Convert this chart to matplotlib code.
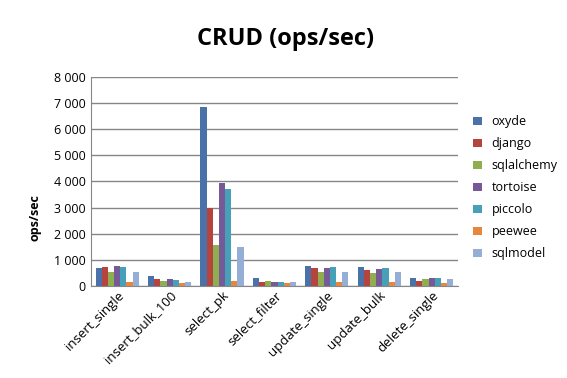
import matplotlib.pyplot as plt
import numpy as np
from matplotlib.ticker import FuncFormatter

plt.rcParams['font.family'] = ['Open Sans', 'DejaVu Sans']

categories = ['insert_single', 'insert_bulk_100', 'select_pk', 'select_filter',
              'update_single', 'update_bulk', 'delete_single']
libs = ['oxyde', 'django', 'sqlalchemy', 'tortoise', 'piccolo', 'peewee', 'sqlmodel']

oxyde = [680, 370, 6845, 320, 765, 730, 305]
django = [730, 270, 2990, 165, 680, 600, 190]
sqlalchemy = [550, 190, 1585, 190, 550, 510, 270]
tortoise = [755, 270, 3935, 165, 690, 650, 305]
piccolo = [715, 215, 3730, 155, 740, 690, 305]
peewee = [155, 100, 190, 100, 165, 155, 115]
sqlmodel = [550, 140, 1480, 165, 550, 525, 270]

series = [oxyde, django, sqlalchemy, tortoise, piccolo, peewee, sqlmodel]
colors = ['#4A72A9', '#B5443F', '#8FAE50', '#765A97', '#45A0B8', '#E8863D', '#94AED6']

fig = plt.figure(figsize=(5.67, 3.78), dpi=100)
ax = fig.add_axes([0.1605, 0.2434, 0.647, 0.553])

x = np.arange(len(categories))
w = 0.118
for i, (name, vals) in enumerate(zip(libs, series)):
    ax.bar(x + (i - 3) * w, vals, width=w, color=colors[i], label=name, zorder=3)

ax.set_xlim(-0.5, len(categories) - 0.5)
ax.set_ylim(0, 8000)
ax.set_yticks(range(0, 8001, 1000))
ax.yaxis.set_major_formatter(FuncFormatter(lambda v, p: f'{int(v):,}'.replace(',', ' ')))
ax.grid(axis='y', color='#868686', linewidth=1, zorder=0)
for s in ['top', 'right']:
    ax.spines[s].set_visible(False)
for s in ['left', 'bottom']:
    ax.spines[s].set_color('#868686')
ax.tick_params(axis='y', length=0, labelsize=9, pad=4)
ax.tick_params(axis='x', length=0, labelsize=9.5, pad=2)
ax.set_xticks(x)
ax.set_xticklabels(categories, rotation=45, ha='right', rotation_mode='anchor')

# y label sits lower than the axes centre in the reference
fig.text(35 / 567, 1 - 218 / 378, 'ops/sec', fontsize=9, fontweight='bold',
         rotation=90, ha='center', va='center')
fig.text(0.503, 1 - 39 / 378, 'CRUD (ops/sec)', fontsize=17, fontweight='bold',
         ha='center', va='center')

ax.legend(loc='center left', bbox_to_anchor=(1.01, 0.469), frameon=False,
          fontsize=9, handlelength=0.7, handleheight=0.7, labelspacing=0.72,
          handletextpad=0.8)

fig.savefig('out.png', dpi=100)
